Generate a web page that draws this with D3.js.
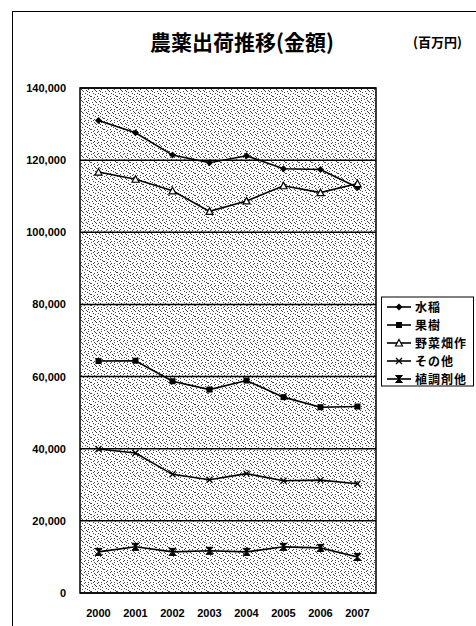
<!DOCTYPE html>
<html><head><meta charset="utf-8">
<script src="https://cdn.jsdelivr.net/npm/d3@7"></script>
<style>
html,body{margin:0;padding:0;background:#fff;}
svg{display:block;}
text{font-family:"Noto Sans CJK JP","Liberation Sans",Arial,sans-serif;font-weight:bold;fill:#000;}
.num{font-family:"Liberation Sans",Arial,sans-serif;}
</style></head>
<body>
<svg id="chart" width="476" height="626"></svg>
<script>
const years = ["2000","2001","2002","2003","2004","2005","2006","2007"];
const suito   = [131000,127600,121400,119300,121200,117600,117400,112400];
const kaju    = [64300,64400,58700,56400,58900,54300,51500,51700];
const yasai   = [116700,114700,111500,105800,108700,112900,111000,113500];
const sonota  = [39900,38800,32900,31400,33100,31100,31300,30300];
const shokucho= [11400,12800,11400,11700,11400,12800,12500,10000];
const seriesNames = ["水稲","果樹","野菜畑作","その他","植調剤他"];
const seriesValues = [suito,kaju,yasai,sonota,shokucho];
const markerTypes = ["diamond","square","triangle","cross","hourglass"];
const yTicks = [0,20000,40000,60000,80000,100000,120000,140000];
const titleText = "農薬出荷推移(金額)";
const unitText = "(百万円)";

const svg = d3.select("#chart");
const M = {left:80,right:376,top:88,bottom:593};

// texture pattern
const defs = svg.append("defs");
const pat = defs.append("pattern").attr("id","stip").attr("patternUnits","userSpaceOnUse")
  .attr("width",13).attr("height",11);
pat.append("rect").attr("width",13).attr("height",11).attr("fill","#fff");
const dots = [[0,0],[3,1],[6,0],[1,3],[5,3],[8,2],[2,5],[4,6],[7,5],[6,8],[0,8],[3,9],[10,1],[11,4],[9,6],[12,8],[10,10],[7,10],[2,10],[9,3],[4,2],[11,7]];
dots.forEach(d=>pat.append("rect").attr("x",d[0]).attr("y",d[1]).attr("width",1).attr("height",1).attr("fill","#444"));

// outer frame
svg.append("line").attr("x1",12.5).attr("x2",12.5).attr("y1",11).attr("y2",626).attr("stroke","#000").attr("stroke-width",1);
svg.append("line").attr("x1",12).attr("x2",476).attr("y1",11.5).attr("y2",11.5).attr("stroke","#000").attr("stroke-width",1.2);

// title
svg.append("text").attr("x",242).attr("y",50).attr("text-anchor","middle").attr("font-size",21).text(titleText);
svg.append("text").attr("x",413).attr("y",47).attr("font-size",13).text(unitText);

const x = d3.scalePoint().domain(years).range([M.left,M.right]).padding(0.5);
const y = d3.scaleLinear().domain([0,140000]).range([M.bottom,M.top]);

// plot background
svg.append("rect").attr("x",M.left).attr("y",M.top).attr("width",M.right-M.left).attr("height",M.bottom-M.top)
  .attr("fill","url(#stip)");

// gridlines
svg.append("g").selectAll("line").data(yTicks).join("line")
  .attr("x1",M.left).attr("x2",M.right).attr("y1",d=>y(d)).attr("y2",d=>y(d))
  .attr("stroke","#000").attr("stroke-width",1.5);
svg.append("rect").attr("x",M.left).attr("y",M.top).attr("width",M.right-M.left).attr("height",M.bottom-M.top)
  .attr("fill","none").attr("stroke","#000").attr("stroke-width",1.5);

// y axis labels
const fmt = d3.format(",");
svg.append("g").selectAll("text").data(yTicks).join("text").attr("class","num")
  .attr("x",66).attr("y",d=>y(d)+4).attr("text-anchor","end").attr("font-size",11)
  .text(d=>fmt(d));
// x labels
svg.append("g").selectAll("text").data(years).join("text").attr("class","num")
  .attr("x",d=>x(d)).attr("y",617).attr("text-anchor","middle").attr("font-size",11).text(d=>d);

function marker(g,type,cx,cy){
  if(type==="diamond"){
    g.append("path").attr("d",`M${cx},${cy-3.5}L${cx+3.5},${cy}L${cx},${cy+3.5}L${cx-3.5},${cy}Z`).attr("fill","#000");
  } else if(type==="square"){
    g.append("rect").attr("x",cx-3).attr("y",cy-3).attr("width",6).attr("height",6).attr("fill","#000");
  } else if(type==="triangle"){
    g.append("path").attr("d",`M${cx},${cy-3.5}L${cx+3.5},${cy+3}L${cx-3.5},${cy+3}Z`).attr("fill","#fff").attr("stroke","#000").attr("stroke-width",1.2);
  } else if(type==="cross"){
    g.append("path").attr("d",`M${cx-3},${cy-3}L${cx+3},${cy+3}M${cx-3},${cy+3}L${cx+3},${cy-3}`).attr("stroke","#000").attr("stroke-width",1.3);
  } else if(type==="hourglass"){
    g.append("path").attr("d",`M${cx-3.5},${cy-3.5}L${cx+3.5},${cy-3.5}L${cx-3.5},${cy+3.5}L${cx+3.5},${cy+3.5}Z`).attr("fill","#000").attr("stroke","#000").attr("stroke-width",1);
  }
}

const line = d3.line().x((d,i)=>x(years[i])).y(d=>y(d));
seriesValues.forEach((vals,si)=>{
  const g = svg.append("g");
  g.append("path").attr("d",line(vals)).attr("fill","none").attr("stroke","#000").attr("stroke-width",1.6);
  vals.forEach((v,i)=>marker(g,markerTypes[si],x(years[i]),y(v)));
});

// legend
const lg = svg.append("g");
lg.append("rect").attr("x",381.5).attr("y",297).attr("width",92).attr("height",89)
  .attr("fill","#fff").attr("stroke","#000").attr("stroke-width",1);
const ly = d3.scalePoint().domain(seriesNames).range([307,379]);
seriesNames.forEach((n,i)=>{
  const yy = ly(n);
  lg.append("line").attr("x1",387).attr("x2",411).attr("y1",yy).attr("y2",yy).attr("stroke","#000").attr("stroke-width",1.6);
  marker(lg,markerTypes[i],399,yy);
  lg.append("text").attr("x",415).attr("y",yy+4.5).attr("font-size",12).attr("letter-spacing",1).text(n);
});
</script>
</body></html>
